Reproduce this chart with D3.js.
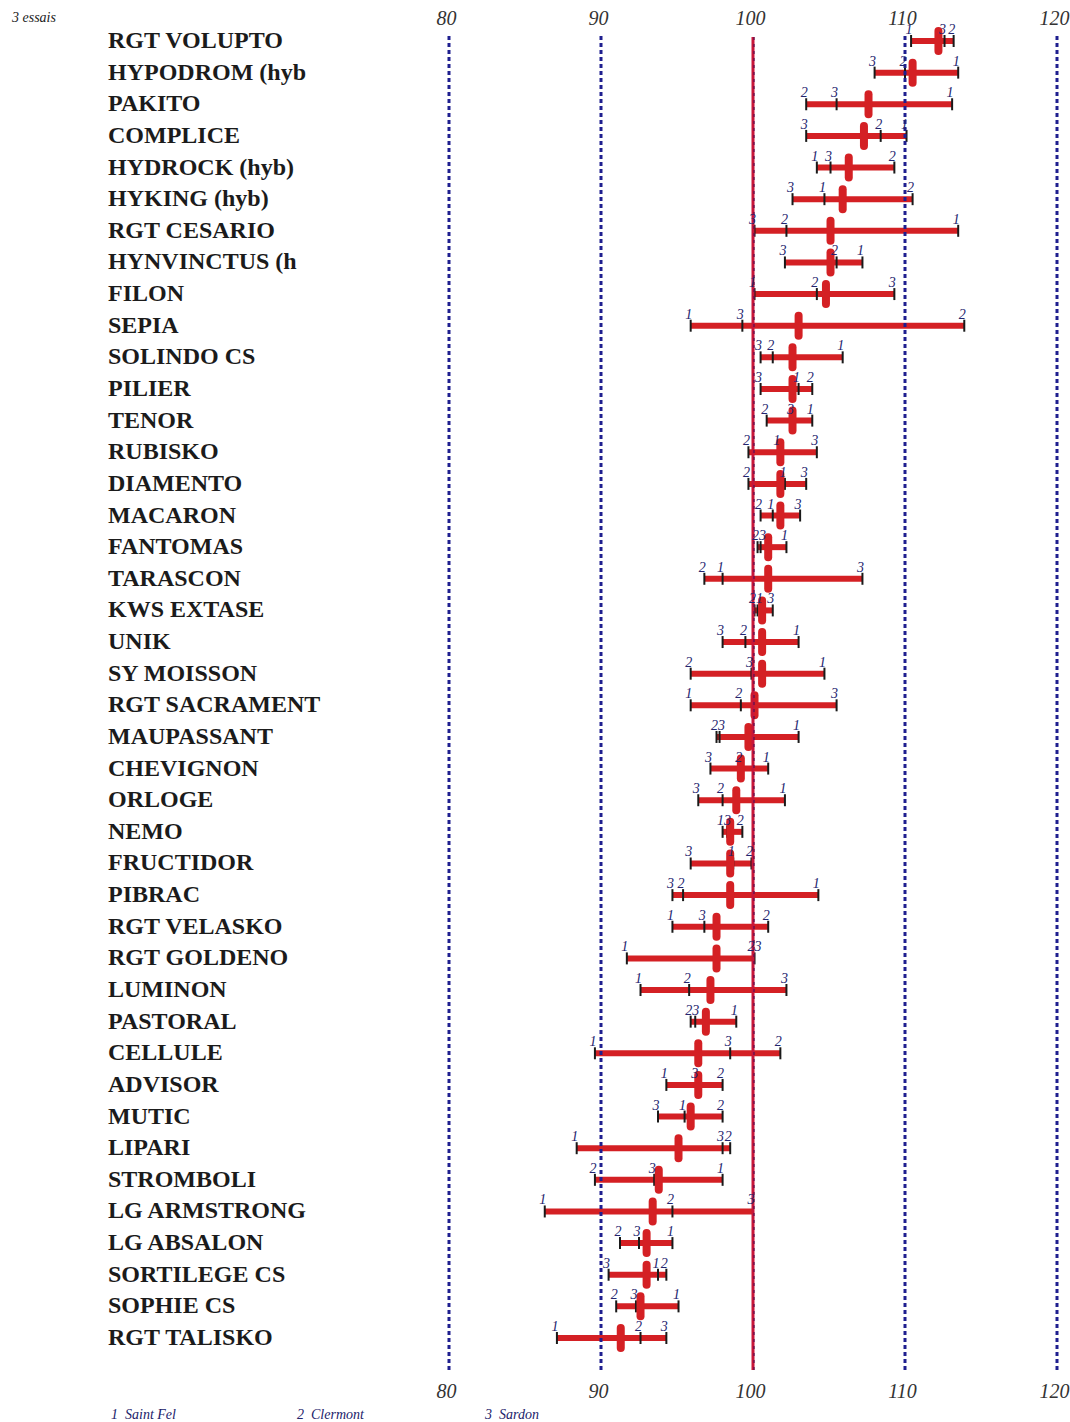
<!DOCTYPE html>
<html>
<head>
<meta charset="utf-8">
<script src="https://cdn.jsdelivr.net/npm/d3@7"></script>
<style>
  html, body { margin: 0; padding: 0; background: #ffffff; }
  svg { display: block; }
</style>
</head>
<body>
<svg id="chart" width="1070" height="1422"></svg>
<script>
// ---------------- DATA ----------------
const varieties = [
  "RGT VOLUPTO", "HYPODROM (hyb", "PAKITO", "COMPLICE", "HYDROCK (hyb)", "HYKING (hyb)",
  "RGT CESARIO", "HYNVINCTUS (h", "FILON", "SEPIA", "SOLINDO CS", "PILIER", "TENOR",
  "RUBISKO", "DIAMENTO", "MACARON", "FANTOMAS", "TARASCON", "KWS EXTASE", "UNIK",
  "SY MOISSON", "RGT SACRAMENT", "MAUPASSANT", "CHEVIGNON", "ORLOGE", "NEMO",
  "FRUCTIDOR", "PIBRAC", "RGT VELASKO", "RGT GOLDENO", "LUMINON", "PASTORAL",
  "CELLULE", "ADVISOR", "MUTIC", "LIPARI", "STROMBOLI", "LG ARMSTRONG", "LG ABSALON",
  "SORTILEGE CS", "SOPHIE CS", "RGT TALISKO"
];
// mean over the 3 trials
const means = [
  112.2, 110.5, 107.6, 107.3, 106.3, 105.9, 105.1, 105.1, 104.8, 103.0, 102.6, 102.6, 102.6,
  101.8, 101.8, 101.8, 101.0, 101.0, 100.6, 100.6, 100.6, 100.1, 99.7, 99.2, 98.9, 98.5,
  98.5, 98.5, 97.6, 97.6, 97.2, 96.9, 96.4, 96.4, 95.9, 95.1, 93.8, 93.4, 93.0,
  93.0, 92.6, 91.3
];
// site 1 : Saint Fel
const site1 = [
  110.4, 113.5, 113.1, 110.1, 104.2, 104.7, 113.5, 107.2, 100.1, 95.9, 105.9, 103.0, 103.9,
  101.7, 102.1, 101.3, 102.2, 98.0, 100.3, 103.0, 104.7, 95.9, 103.0, 101.0, 102.1, 98.0,
  98.7, 104.3, 94.7, 91.7, 92.6, 98.9, 89.6, 94.3, 95.5, 88.4, 98.0, 86.3, 94.7,
  93.75, 95.1, 87.1
];
// site 2 : Clermont
const site2 = [
  113.2, 110.0, 103.5, 108.4, 109.3, 110.5, 102.2, 105.5, 104.2, 113.9, 101.3, 103.9, 100.9,
  99.7, 99.7, 100.5, 100.3, 96.8, 100.1, 99.5, 95.9, 99.2, 97.6, 99.2, 98.0, 99.3,
  99.9, 95.4, 101.0, 100.0, 95.8, 95.9, 101.8, 98.0, 98.0, 98.5, 89.6, 94.7, 91.25,
  94.3, 91.0, 92.6
];
// site 3 : Sardon
const site3 = [
  112.6, 108.0, 105.5, 103.5, 105.1, 102.6, 100.1, 102.1, 109.3, 99.3, 100.5, 100.5, 102.6,
  104.2, 103.5, 103.1, 100.5, 107.2, 101.3, 98.0, 99.9, 105.5, 97.8, 97.2, 96.4, 98.3,
  95.9, 94.7, 96.8, 100.1, 102.2, 96.2, 98.5, 96.3, 93.75, 98.0, 93.5, 100.0, 92.5,
  90.5, 92.3, 94.3
];
const siteNames = ["Saint Fel", "Clermont", "Sardon"];
const gridTicks = [80, 90, 100, 110, 120];
const refValue = 100;
const subtitle = "3 essais";

// ---------------- CHART ----------------
const svg = d3.select("#chart");
const x = d3.scaleLinear().domain([80, 120]).range([449, 1057]);
const y = d3.scalePoint().domain(d3.range(varieties.length)).range([41, 1338]);

const sites = [site1, site2, site3];
const rows = varieties.map((name, i) => {
  const vals = sites.map((s, k) => ({ site: k + 1, v: s[i] }));
  return { i, name, mean: means[i], vals,
    lo: d3.min(vals, d => d.v), hi: d3.max(vals, d => d.v) };
});

// subtitle
svg.append("text").attr("x", 12).attr("y", 22)
  .attr("font-family", "Liberation Serif, serif").attr("font-style", "italic")
  .attr("font-size", 14).attr("fill", "#222").text(subtitle);

// variety names
svg.append("g").selectAll("text").data(rows).join("text")
  .attr("x", 108).attr("y", d => y(d.i) + 7)
  .attr("font-family", "Liberation Serif, Times New Roman, serif")
  .attr("font-weight", "bold").attr("font-size", 24)
  .attr("fill", "#1b1b1b").text(d => d.name);

// axis tick labels (top and bottom) via d3 axes
const axTop = svg.append("g").attr("transform", "translate(-3,28)")
  .call(d3.axisTop(x).tickValues(gridTicks).tickSize(0).tickFormat(d3.format("d")));
const axBot = svg.append("g").attr("transform", "translate(-3,1376)")
  .call(d3.axisBottom(x).tickValues(gridTicks).tickSize(0).tickFormat(d3.format("d")));
[axTop, axBot].forEach(a => {
  a.select(".domain").remove();
  a.selectAll("text").attr("font-family", "Liberation Serif, serif")
    .attr("font-style", "italic").attr("font-size", 20).attr("fill", "#333");
});
axBot.selectAll("text").attr("dy", "0.95em");

// range bars
svg.append("g").selectAll("line").data(rows).join("line")
  .attr("x1", d => x(d.lo)).attr("x2", d => x(d.hi))
  .attr("y1", d => y(d.i)).attr("y2", d => y(d.i))
  .attr("stroke", "#d42024").attr("stroke-width", 6);

// site ticks
const pts = rows.flatMap(r => r.vals.map(v => ({ i: r.i, site: v.site, v: v.v })));
svg.append("g").selectAll("line").data(pts).join("line")
  .attr("x1", d => x(d.v)).attr("x2", d => x(d.v))
  .attr("y1", d => y(d.i) - 6).attr("y2", d => y(d.i) + 6)
  .attr("stroke", "#1a1a1a").attr("stroke-width", 2);

// mean markers
svg.append("g").selectAll("rect").data(rows).join("rect")
  .attr("x", d => x(d.mean) - 4).attr("y", d => y(d.i) - 14)
  .attr("width", 8).attr("height", 28).attr("rx", 4)
  .attr("fill", "#d42024");

// vertical reference lines
const gLines = svg.append("g");
gridTicks.filter(t => t !== refValue).forEach(t => {
  gLines.append("line").attr("x1", x(t)).attr("x2", x(t))
    .attr("y1", 36).attr("y2", 1370)
    .attr("stroke", "#1f1f8f").attr("stroke-width", 3)
    .attr("stroke-dasharray", "4,3");
});
gLines.append("line").attr("x1", x(refValue)).attr("x2", x(refValue))
  .attr("y1", 37).attr("y2", 1370)
  .attr("stroke", "#c8163a").attr("stroke-width", 3);
gLines.append("line").attr("x1", x(refValue) + 1).attr("x2", x(refValue) + 1)
  .attr("y1", 37).attr("y2", 1370)
  .attr("stroke", "#5a1050").attr("stroke-width", 1.2)
  .attr("stroke-dasharray", "3,4");

// site number labels: nudge labels of close values so they sit side by side (like "23")
const labelPos = [];
rows.forEach(r => {
  const sorted = r.vals.slice().sort((a, b) => a.v - b.v);
  let prev = -Infinity;
  sorted.forEach(s => {
    let lx = x(s.v) - 2;
    if (lx - prev < 7) lx = prev + 7;
    prev = lx;
    labelPos.push({ i: r.i, site: s.site, lx });
  });
});
svg.append("g").selectAll("text").data(labelPos).join("text")
  .attr("x", d => d.lx).attr("y", d => y(d.i) - 7)
  .attr("text-anchor", "middle")
  .attr("font-family", "Liberation Serif, serif").attr("font-style", "italic")
  .attr("font-size", 14).attr("fill", "#24246e")
  .text(d => d.site);

// legend
svg.append("g").selectAll("text").data(siteNames).join("text")
  .attr("x", (d, k) => [111, 297, 485][k]).attr("y", 1419)
  .attr("font-family", "Liberation Serif, serif").attr("font-style", "italic")
  .attr("font-size", 14).attr("fill", "#22226a")
  .attr("xml:space", "preserve")
  .text((d, k) => (k + 1) + "  " + d);
</script>
</body>
</html>
